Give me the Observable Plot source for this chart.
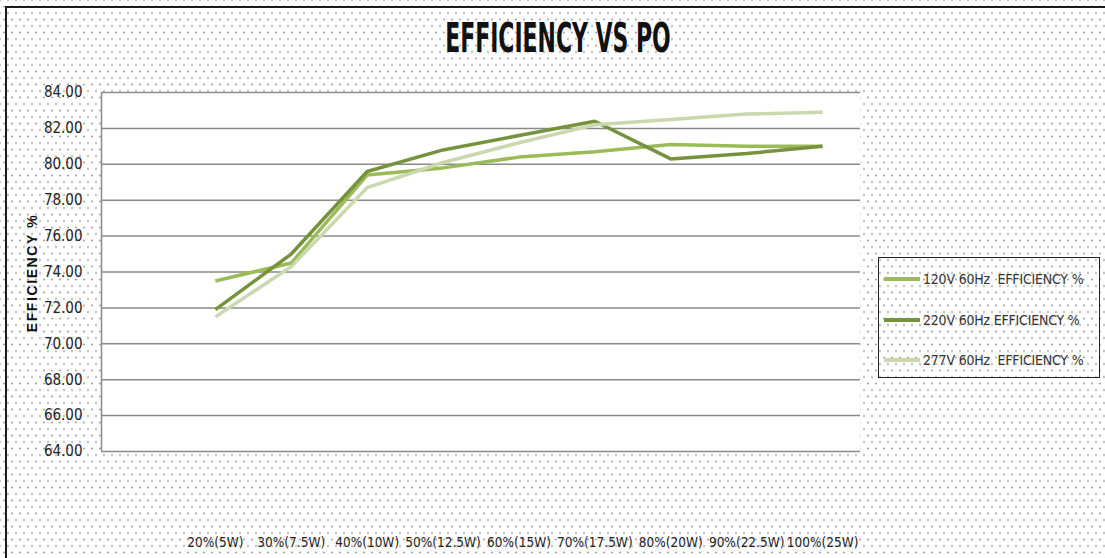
<!DOCTYPE html>
<html>
<head>
<meta charset="utf-8">
<script src="https://cdn.jsdelivr.net/npm/d3@7"></script>
<script src="https://cdn.jsdelivr.net/npm/@observablehq/plot@0.6"></script>
<style>
  html, body { margin: 0; padding: 0; }
  body {
    width: 1105px; height: 558px; overflow: hidden; position: relative;
    background-color: #ffffff;
    background-image:
      radial-gradient(circle, #a8a8a8 0.7px, rgba(255,255,255,0) 1.3px),
      radial-gradient(circle, #a8a8a8 0.7px, rgba(255,255,255,0) 1.3px);
    background-size: 8px 13px, 8px 13px;
    background-position: 0 0, 4px 6.5px;
    font-family: "DejaVu Sans Condensed", "DejaVu Sans", sans-serif;
  }
  #frame { position: absolute; left: 5px; top: 6px; width: 1100px; height: 552px;
    border-top: 2px solid #1a1a1a; border-left: 2px solid #1a1a1a; box-sizing: border-box; }
  #chart { position: absolute; left: 0; top: 0; }
  #title { position: absolute; left: 0; top: 18px; width: 1116px; text-align: center;
    font-size: 40px; line-height: 40px; font-weight: bold; color: #111; }
  #title span { display: inline-block; transform: scaleX(0.61); transform-origin: center; }
  #ylabel { position: absolute; left: 32px; top: 273px; transform: translate(-50%, -50%) rotate(-90deg);
    font-family: "Liberation Sans", sans-serif; font-weight: bold; font-size: 14px; letter-spacing: 1.6px;
    white-space: nowrap; color: #111; }
  #legend { position: absolute; left: 878px; top: 257px; width: 222px; height: 121px;
    border: 1.5px solid #222; box-sizing: border-box; }
  .item { position: absolute; left: 5px; height: 20px; display: flex; align-items: center;
    font-size: 14px; letter-spacing: -0.2px; color: #333; white-space: pre; }
  .sw { width: 36px; height: 4px; margin-right: 3px; }
</style>
</head>
<body>
<div id="frame"></div>
<div id="chart"></div>
<div id="title"><span>EFFICIENCY VS PO</span></div>
<div id="ylabel">EFFICIENCY %</div>
<div id="legend"></div>
<script>
const categories = ["20%(5W)", "30%(7.5W)", "40%(10W)", "50%(12.5W)", "60%(15W)", "70%(17.5W)", "80%(20W)", "90%(22.5W)", "100%(25W)"];
const seriesNames = ["120V 60Hz  EFFICIENCY %", "220V 60Hz EFFICIENCY %", "277V 60Hz  EFFICIENCY %"];
const eff120 = [73.5, 74.5, 79.4, 79.8, 80.4, 80.7, 81.1, 81.0, 81.0];
const eff220 = [71.9, 75.0, 79.6, 80.8, 81.6, 82.4, 80.3, 80.6, 81.0];
const eff277 = [71.5, 74.3, 78.7, 80.1, 81.2, 82.2, 82.5, 82.8, 82.9];
const yTicks = [64, 66, 68, 70, 72, 74, 76, 78, 80, 82, 84];
const colors = ["#9bbb59", "#76923c", "#c9d8ae"];

const seriesValues = [eff120, eff220, eff277];
const rows = [];
seriesValues.forEach((vals, s) => vals.forEach((v, i) => rows.push({series: seriesNames[s], idx: i, cat: categories[i], value: v})));
const idxTicks = categories.map((c, i) => i);

const plot = Plot.plot({
  width: 1105,
  height: 558,
  marginLeft: 101,
  marginRight: 245,
  marginTop: 92,
  marginBottom: 107,
  style: "background: transparent; overflow: visible; font-family: 'DejaVu Sans Condensed', 'DejaVu Sans', sans-serif;",
  x: {domain: [-1.5, 8.5]},
  y: {domain: [64, 84]},
  color: {domain: seriesNames, range: colors},
  marks: [
    Plot.frame({fill: "white", stroke: null}),
    Plot.ruleY(yTicks, {stroke: "#8a8a8a", strokeWidth: 1.5}),
    Plot.ruleX([-1.5], {stroke: "#8a8a8a", strokeWidth: 1.5}),
    Plot.axisY({ticks: yTicks, tickFormat: d => d.toFixed(2), tickSize: 0, tickPadding: 19, fontSize: 15, fill: "#222", label: null}),
    Plot.axisX({ticks: idxTicks, tickFormat: i => categories[i], tickSize: 0, tickPadding: 86, fontSize: 13.5, fill: "#222", label: null}),
    Plot.line(rows, {x: "idx", y: "value", z: "series", stroke: "series", strokeWidth: 3.5, strokeLinejoin: "miter", strokeLinecap: "butt"})
  ]
});
document.getElementById("chart").appendChild(plot);

const legend = document.getElementById("legend");
const tops = [11, 52, 92];
seriesNames.forEach((name, s) => {
  const it = document.createElement("div");
  it.className = "item";
  it.style.top = tops[s] + "px";
  const sw = document.createElement("div");
  sw.className = "sw";
  sw.style.background = colors[s];
  it.appendChild(sw);
  const tx = document.createElement("span");
  tx.textContent = name;
  it.appendChild(tx);
  legend.appendChild(it);
});
</script>
</body>
</html>
